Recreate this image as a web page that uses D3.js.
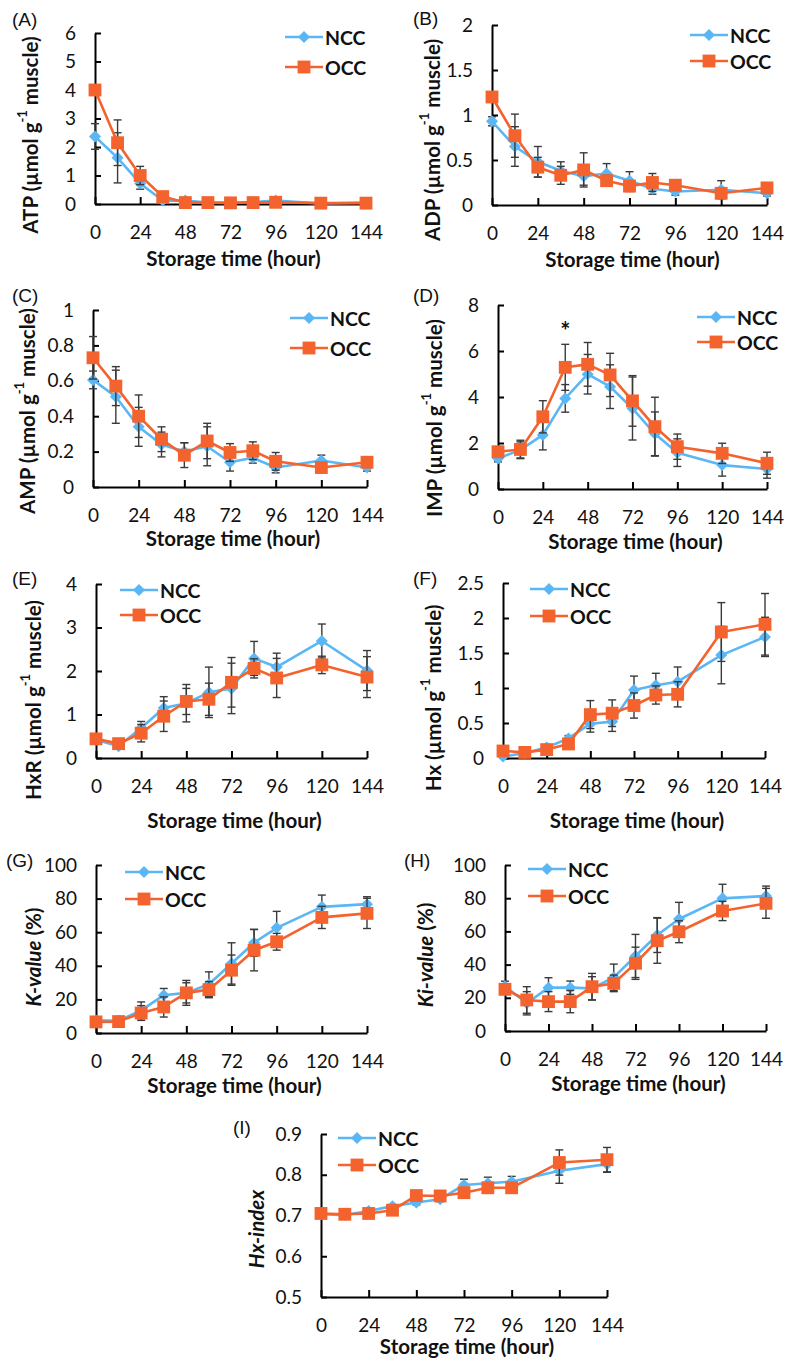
<!DOCTYPE html>
<html>
<head>
<meta charset="utf-8">
<script src="https://cdn.jsdelivr.net/npm/d3@7"></script>
<style>
  html,body{margin:0;padding:0;background:#fff;}
  svg{display:block;}
</style>
</head>
<body>
<svg id="chart" width="785" height="1363"></svg>
<script>
// ---------------- DATA ----------------
const hours = [0, 12, 24, 36, 48, 60, 72, 84, 96, 120, 144];
const xTicks = [0, 24, 48, 72, 96, 120, 144];
const seriesNames = ["NCC", "OCC"];

// (A) ATP
const atpNCC   = [2.37, 1.62, 0.72, 0.12, 0.12, 0.05, 0.04, 0.07, 0.12, 0.02, 0.05];
const atpOCC   = [4.00, 2.15, 1.00, 0.26, 0.05, 0.05, 0.04, 0.05, 0.06, 0.03, 0.03];
const atpNCCsd = [0.45, 0.88, 0.20, 0.05, 0.05, 0.02, 0.02, 0.03, 0.10, 0.02, 0.02];
const atpOCCsd = [0.08, 0.80, 0.32, 0.05, 0.03, 0.02, 0.02, 0.02, 0.03, 0.02, 0.02];
const atpTicks = [0, 1, 2, 3, 4, 5, 6];

// (B) ADP
const adpNCC   = [0.93, 0.65, 0.48, 0.38, 0.32, 0.35, 0.27, 0.18, 0.15, 0.17, 0.13];
const adpOCC   = [1.20, 0.77, 0.42, 0.33, 0.39, 0.27, 0.21, 0.25, 0.22, 0.13, 0.19];
const adpNCCsd = [0.05, 0.22, 0.17, 0.10, 0.10, 0.11, 0.10, 0.06, 0.04, 0.10, 0.03];
const adpOCCsd = [0.05, 0.24, 0.11, 0.10, 0.19, 0.06, 0.06, 0.10, 0.05, 0.05, 0.05];
const adpTicks = [0, 0.5, 1, 1.5, 2];

// (C) AMP
const ampNCC   = [0.605, 0.51, 0.34, 0.24, 0.20, 0.23, 0.14, 0.165, 0.11, 0.15, 0.11];
const ampOCC   = [0.73, 0.57, 0.40, 0.27, 0.18, 0.26, 0.195, 0.205, 0.145, 0.11, 0.14];
const ampNCCsd = [0.05, 0.15, 0.11, 0.07, 0.05, 0.11, 0.05, 0.03, 0.03, 0.03, 0.02];
const ampOCCsd = [0.12, 0.11, 0.12, 0.07, 0.07, 0.10, 0.05, 0.05, 0.05, 0.02, 0.02];
const ampTicks = [0, 0.2, 0.4, 0.6, 0.8, 1];

// (D) IMP
const impNCC   = [1.33, 1.70, 2.35, 3.94, 4.99, 4.45, 3.50, 2.40, 1.58, 1.04, 0.87];
const impOCC   = [1.62, 1.72, 3.14, 5.29, 5.42, 4.96, 3.83, 2.71, 1.84, 1.55, 1.12];
const impNCCsd = [0.15, 0.35, 0.65, 0.60, 0.86, 0.95, 1.37, 0.95, 0.60, 0.48, 0.40];
const impOCCsd = [0.15, 0.40, 0.70, 1.00, 0.95, 0.94, 1.10, 1.28, 0.55, 0.44, 0.48];
const impTicks = [0, 2, 4, 6, 8];
const impSignificant = [36];

// (E) HxR
const hxrNCC   = [0.42, 0.27, 0.69, 1.15, 1.26, 1.51, 1.60, 2.29, 2.09, 2.69, 2.01];
const hxrOCC   = [0.44, 0.33, 0.57, 0.96, 1.30, 1.35, 1.74, 2.06, 1.84, 2.14, 1.86];
const hxrNCCsd = [0.05, 0.05, 0.15, 0.26, 0.43, 0.58, 0.58, 0.39, 0.32, 0.39, 0.46];
const hxrOCCsd = [0.05, 0.05, 0.20, 0.35, 0.30, 0.37, 0.57, 0.22, 0.45, 0.20, 0.47];
const hxrTicks = [0, 1, 2, 3, 4];

// (F) Hx
const hxNCC   = [0.02, 0.07, 0.15, 0.28, 0.49, 0.52, 0.97, 1.04, 1.09, 1.47, 1.73];
const hxOCC   = [0.10, 0.08, 0.12, 0.20, 0.62, 0.64, 0.75, 0.90, 0.91, 1.80, 1.91];
const hxNCCsd = [0.02, 0.02, 0.03, 0.04, 0.12, 0.14, 0.20, 0.17, 0.21, 0.41, 0.28];
const hxOCCsd = [0.02, 0.02, 0.03, 0.05, 0.20, 0.19, 0.18, 0.13, 0.18, 0.42, 0.44];
const hxTicks = [0, 0.5, 1, 1.5, 2, 2.5];

// (G) K-value
const kNCC   = [7.5, 7.3, 13.5, 22.5, 23.9, 29.0, 41.4, 53.7, 62.6, 75.1, 76.7];
const kOCC   = [6.6, 6.8, 11.9, 15.5, 23.9, 25.8, 37.4, 49.3, 54.3, 68.8, 71.2];
const kNCCsd = [1.0, 1.0, 5.0, 4.0, 6.0, 7.4, 12.3, 8.0, 9.8, 7.0, 4.4];
const kOCCsd = [1.0, 1.0, 4.4, 6.0, 7.4, 4.8, 9.0, 12.3, 5.0, 6.6, 9.0];
const kTicks = [0, 20, 40, 60, 80, 100];

// (H) Ki-value
const kiNCC   = [27.0, 16.7, 26.1, 26.1, 25.7, 32.3, 45.2, 57.8, 67.5, 79.9, 81.3];
const kiOCC   = [25.1, 18.7, 17.7, 17.7, 26.7, 28.7, 40.8, 54.4, 59.8, 72.3, 76.9];
const kiNCCsd = [3.0, 7.0, 6.0, 4.0, 7.0, 8.0, 13.0, 10.5, 10.0, 8.5, 6.0];
const kiOCCsd = [3.0, 8.0, 6.0, 6.7, 8.0, 5.0, 9.7, 13.6, 6.6, 5.8, 9.0];
const kiTicks = [0, 20, 40, 60, 80, 100];

// (I) Hx-index
const hxiNCC   = [0.703, 0.701, 0.711, 0.723, 0.732, 0.740, 0.775, 0.779, 0.783, 0.810, 0.826];
const hxiOCC   = [0.705, 0.703, 0.705, 0.713, 0.749, 0.748, 0.756, 0.768, 0.768, 0.830, 0.837];
const hxiNCCsd = [0.003, 0.003, 0.004, 0.004, 0.006, 0.006, 0.014, 0.015, 0.013, 0.031, 0.020];
const hxiOCCsd = [0.003, 0.003, 0.004, 0.004, 0.005, 0.005, 0.008, 0.010, 0.010, 0.031, 0.030];
const hxiTicks = [0.5, 0.6, 0.7, 0.8, 0.9];

// ---------------- STYLE / LAYOUT ----------------
const COL_NCC = "#5AB6F4";
const COL_OCC = "#F4622D";
const ERR_COL = "#3a3a3a";
const FONT = "Lato, 'Liberation Sans', sans-serif";

const umol = (name) => [{t: name + " (\u00B5mol g"}, {t: "-1", sup: true}, {t: " muscle)"}];

const panels = [
  {label: "(A)", ncc: atpNCC, occ: atpOCC, nsd: atpNCCsd, osd: atpOCCsd, ticks: atpTicks, fmt: d3.format("d"),
   title: umol("ATP"), box: {x0: 95, x1: 366, yb: 204, yt: 33}, tcx: 30, tcy: 135,
   leg: {x: 285, y: 37, dy: 30}, lab: {x: 12, y: 26}, xtOff: 62},
  {label: "(B)", ncc: adpNCC, occ: adpOCC, nsd: adpNCCsd, osd: adpOCCsd, ticks: adpTicks, fmt: d => String(d),
   title: umol("ADP"), box: {x0: 492, x1: 767, yb: 205, yt: 25}, tcx: 432, tcy: 140,
   leg: {x: 690, y: 35, dy: 26}, lab: {x: 413, y: 25}, xtOff: 62},
  {label: "(C)", ncc: ampNCC, occ: ampOCC, nsd: ampNCCsd, osd: ampOCCsd, ticks: ampTicks, fmt: d => String(d),
   title: umol("AMP"), box: {x0: 93, x1: 367, yb: 487, yt: 310}, tcx: 27, tcy: 411,
   leg: {x: 290, y: 318, dy: 30}, lab: {x: 12, y: 302}, xtOff: 59},
  {label: "(D)", ncc: impNCC, occ: impOCC, nsd: impNCCsd, osd: impOCCsd, ticks: impTicks, fmt: d3.format("d"),
   title: umol("IMP"), box: {x0: 498, x1: 767, yb: 489, yt: 305}, tcx: 434, tcy: 418,
   leg: {x: 697, y: 317, dy: 25}, lab: {x: 413, y: 302}, xtOff: 60, sig: impSignificant},
  {label: "(E)", ncc: hxrNCC, occ: hxrOCC, nsd: hxrNCCsd, osd: hxrOCCsd, ticks: hxrTicks, fmt: d3.format("d"),
   title: umol("HxR"), box: {x0: 96, x1: 367, yb: 758, yt: 584}, tcx: 33, tcy: 700,
   leg: {x: 120, y: 590, dy: 25}, lab: {x: 12, y: 585}, xtOff: 70},
  {label: "(F)", ncc: hxNCC, occ: hxOCC, nsd: hxNCCsd, osd: hxOCCsd, ticks: hxTicks, fmt: d => String(d),
   title: umol("Hx"), box: {x0: 503, x1: 765, yb: 758, yt: 583}, tcx: 433, tcy: 698,
   leg: {x: 530, y: 589, dy: 27}, lab: {x: 413, y: 585}, xtOff: 70},
  {label: "(G)", ncc: kNCC, occ: kOCC, nsd: kNCCsd, osd: kOCCsd, ticks: kTicks, fmt: d3.format("d"),
   title: [{t: "K-value", it: true}, {t: " (%)"}], box: {x0: 96, x1: 367, yb: 1033, yt: 865}, tcx: 33, tcy: 957,
   leg: {x: 125, y: 872, dy: 27}, lab: {x: 6, y: 867}, xtOff: 60},
  {label: "(H)", ncc: kiNCC, occ: kiOCC, nsd: kiNCCsd, osd: kiOCCsd, ticks: kiTicks, fmt: d3.format("d"),
   title: [{t: "Ki-value", it: true}, {t: " (%)"}], box: {x0: 505, x1: 766, yb: 1031, yt: 865}, tcx: 425, tcy: 955,
   leg: {x: 528, y: 869, dy: 27}, lab: {x: 404, y: 867}, xtOff: 60},
  {label: "(I)", ncc: hxiNCC, occ: hxiOCC, nsd: hxiNCCsd, osd: hxiOCCsd, ticks: hxiTicks, fmt: d => String(d),
   title: [{t: "Hx-index", it: true}], box: {x0: 321, x1: 607, yb: 1297, yt: 1134}, tcx: 256, tcy: 1229,
   leg: {x: 338, y: 1138, dy: 27}, lab: {x: 233, y: 1134}, xtOff: 57}
];

// ---------------- DRAW ----------------
const svg = d3.select("#chart");
svg.append("rect").attr("width", 785).attr("height", 1363).attr("fill", "#fff");

function drawMarker(g, name, cx, cy) {
  if (name === "NCC") {
    g.append("path").attr("d", d3.symbol(d3.symbolSquare, 72)())
      .attr("transform", `translate(${cx},${cy}) rotate(45)`)
      .attr("fill", COL_NCC);
  } else {
    g.append("path").attr("d", d3.symbol(d3.symbolSquare, 165)())
      .attr("transform", `translate(${cx},${cy})`)
      .attr("fill", COL_OCC);
  }
}

panels.forEach(p => {
  const g = svg.append("g");
  const b = p.box;
  const x = d3.scaleLinear().domain([0, 144]).range([b.x0, b.x1]);
  const dom = [p.ticks[0], p.ticks[p.ticks.length - 1]];
  const y = d3.scaleLinear().domain(dom).range([b.yb, b.yt]);

  // axes
  const xa = g.append("g").attr("transform", `translate(0,${b.yb})`)
    .call(d3.axisBottom(x).tickValues(xTicks).tickSizeInner(-7).tickSizeOuter(0).tickPadding(22).tickFormat(d3.format("d")));
  const ya = g.append("g").attr("transform", `translate(${b.x0},0)`)
    .call(d3.axisLeft(y).tickValues(p.ticks).tickSizeInner(-6).tickSizeOuter(0).tickPadding(19).tickFormat(p.fmt));
  [xa, ya].forEach(a => {
    a.selectAll("path.domain").attr("stroke", "#000").attr("stroke-width", 2);
    a.selectAll(".tick line").attr("stroke", "#000").attr("stroke-width", 2);
    a.selectAll("text").attr("font-family", FONT).attr("font-size", 19).attr("fill", "#111");
  });

  // x axis title
  g.append("text").attr("x", (b.x0 + b.x1) / 2 + 3).attr("y", b.yb + p.xtOff)
    .attr("text-anchor", "middle").attr("font-family", FONT).attr("font-size", 20.5)
    .attr("font-weight", "bold").attr("fill", "#111").text("Storage time (hour)");

  // y axis title
  const yt = g.append("text").attr("transform", `translate(${p.tcx},${p.tcy}) rotate(-90)`)
    .attr("text-anchor", "middle").attr("dominant-baseline", "central")
    .attr("font-family", FONT).attr("font-size", 20.5).attr("font-weight", "bold").attr("fill", "#111");
  p.title.forEach(part => {
    const ts = yt.append("tspan").text(part.t);
    if (part.it) ts.attr("font-style", "italic");
    if (part.sup) ts.attr("font-size", 13).attr("baseline-shift", "super");
  });

  // panel label
  g.append("text").attr("x", p.lab.x).attr("y", p.lab.y)
    .attr("font-family", "'Liberation Sans', Arial, sans-serif").attr("font-size", 19).attr("fill", "#111").text(p.label);

  // series
  const series = [
    {name: "NCC", v: p.ncc, sd: p.nsd, col: COL_NCC},
    {name: "OCC", v: p.occ, sd: p.osd, col: COL_OCC}
  ];
  const line = d3.line().x((d, i) => x(hours[i])).y(d => y(d));
  series.forEach(s => {
    const sg = g.append("g");
    // error bars
    s.v.forEach((v, i) => {
      const cx = x(hours[i]);
      const lo = y(Math.max(dom[0], v - s.sd[i])), hi = y(v + s.sd[i]);
      sg.append("line").attr("x1", cx).attr("x2", cx).attr("y1", lo).attr("y2", hi)
        .attr("stroke", ERR_COL).attr("stroke-width", 1.4);
      [lo, hi].forEach(yy => sg.append("line").attr("x1", cx - 4).attr("x2", cx + 4)
        .attr("y1", yy).attr("y2", yy).attr("stroke", ERR_COL).attr("stroke-width", 1.4));
    });
    sg.append("path").attr("d", line(s.v)).attr("fill", "none")
      .attr("stroke", s.col).attr("stroke-width", 2.6).attr("stroke-linejoin", "round");
    s.v.forEach((v, i) => drawMarker(sg, s.name, x(hours[i]), y(v)));
  });

  // significance
  if (p.sig) {
    p.sig.forEach(h => {
      const i = hours.indexOf(h);
      const top = Math.min(y(p.ncc[i] + p.nsd[i]), y(p.occ[i] + p.osd[i]));
      g.append("text").attr("x", x(h)).attr("y", top - 4).attr("text-anchor", "middle")
        .attr("font-family", FONT).attr("font-size", 24).attr("font-weight", "bold").attr("fill", "#111").text("*");
    });
  }

  // legend
  seriesNames.forEach((n, k) => {
    const ly = p.leg.y + k * p.leg.dy;
    const col = n === "NCC" ? COL_NCC : COL_OCC;
    g.append("line").attr("x1", p.leg.x).attr("x2", p.leg.x + 38).attr("y1", ly).attr("y2", ly)
      .attr("stroke", col).attr("stroke-width", 2.6);
    drawMarker(g, n, p.leg.x + 19, ly);
    g.append("text").attr("x", p.leg.x + 40).attr("y", ly).attr("dominant-baseline", "central")
      .attr("font-family", FONT).attr("font-size", 19.5).attr("font-weight", "bold").attr("fill", "#111").text(n);
  });
});
</script>
</body>
</html>
